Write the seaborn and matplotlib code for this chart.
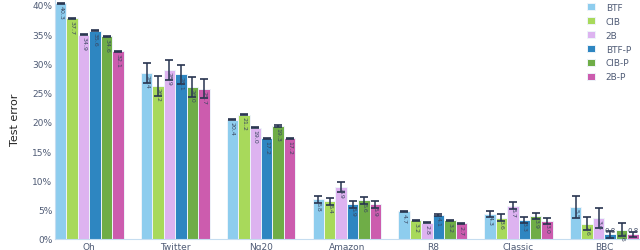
import matplotlib.pyplot as plt
import matplotlib.ticker as mtick
import pandas as pd
import seaborn as sns

# Data
DATASETS = ['Oh', 'Twitter', 'Ng20', 'Amazon', 'R8', 'Classic', 'BBC']
METHODS = ['BTF', 'CIB', '2B', 'BTF-P', 'CIB-P', '2B-P']

BTF = [40.3, 28.4, 20.4, 6.8, 4.7, 4.3, 5.5]
CIB = [37.7, 26.2, 21.2, 6.4, 3.2, 3.6, 2.6]
TWO_B = [34.9, 28.9, 19.0, 8.9, 2.8, 5.7, 3.6]
BTF_P = [35.6, 28.1, 17.2, 5.9, 4.1, 3.3, 0.8]
CIB_P = [34.6, 26.0, 19.3, 6.6, 3.2, 3.9, 1.6]
TWO_B_P = [32.1, 25.7, 17.2, 5.9, 2.7, 3.0, 0.8]

BTF_ERR = [0.1, 1.7, 0.1, 0.6, 0.1, 0.5, 1.9]
CIB_ERR = [0.1, 1.7, 0.1, 0.6, 0.1, 0.6, 1.1]
TWO_B_ERR = [0.1, 1.7, 0.1, 0.9, 0.1, 0.6, 1.7]
BTF_P_ERR = [0.1, 1.7, 0.1, 0.6, 0.1, 0.5, 0.6]
CIB_P_ERR = [0.1, 1.7, 0.1, 0.6, 0.1, 0.5, 1.1]
TWO_B_P_ERR = [0.1, 1.7, 0.1, 0.6, 0.1, 0.5, 0.45]

# Colors
PALETTE = ['#8ECDEE', '#A8D95B', '#DDB3F0', '#2E86C1', '#6FAD47', '#CC5CAE']
TICK_COLOR = '#4F5B75'
ERR_COLOR = '#27344F'
SPINE_COLOR = '#C5DDF0'

values = [BTF, CIB, TWO_B, BTF_P, CIB_P, TWO_B_P]
errors = [BTF_ERR, CIB_ERR, TWO_B_ERR, BTF_P_ERR, CIB_P_ERR, TWO_B_P_ERR]

rows = []
for m, vals, errs in zip(METHODS, values, errors):
    for d, v, e in zip(DATASETS, vals, errs):
        rows.append({'dataset': d, 'method': m, 'error': v, 'std': e})
df = pd.DataFrame(rows)

sns.set_style('white')
plt.rcParams['font.family'] = ['DejaVu Sans']

fig = plt.figure(figsize=(6.4, 2.51), dpi=100)
ax = fig.add_axes([0.086, 0.044, 0.912, 0.956])

sns.barplot(data=df, x='dataset', y='error', hue='method', palette=PALETTE,
            saturation=1, errorbar=None, width=0.8, linewidth=0.7,
            edgecolor='#EEF4FA', ax=ax)

# Error bars and value labels on each bar
for container, m in zip(ax.containers, METHODS):
    sub = df[df['method'] == m]
    for bar, v, e in zip(container, sub['error'], sub['std']):
        cx = bar.get_x() + bar.get_width() / 2
        ax.errorbar(cx, v, yerr=e, color=ERR_COLOR, capsize=3,
                    elinewidth=1.1, capthick=1.2, zorder=5)
        if v < 1.5:
            ax.text(cx, v + 0.3, f'{v:.1f}', ha='center', va='bottom',
                    fontsize=5, color='#3A4660', zorder=6)
        else:
            ax.text(cx, v - 0.25, f'{v:.1f}', ha='center', va='top',
                    rotation=270, fontsize=4.5, color='#3A4660', zorder=6)

ax.set_xlim(-0.4, 6.4)
ax.set_ylim(0, 41)
ax.set_yticks(range(0, 41, 5))
ax.yaxis.set_major_formatter(mtick.FormatStrFormatter('%d%%'))
ax.tick_params(axis='both', labelsize=6.5, colors=TICK_COLOR, length=0, pad=2)
ax.set_xlabel('')
ax.set_ylabel('Test error', fontsize=8, color='#222222', labelpad=9)

for side in ['top', 'right']:
    ax.spines[side].set_visible(False)
for side in ['left', 'bottom']:
    ax.spines[side].set_color(SPINE_COLOR)
    ax.spines[side].set_linewidth(0.8)

legend = ax.legend(loc='upper left', bbox_to_anchor=(0.905, 1.0), frameon=False,
                   fontsize=6.5, handlelength=0.9, handleheight=0.9,
                   labelspacing=0.55, handletextpad=1.2, borderaxespad=0)
for text in legend.get_texts():
    text.set_color(TICK_COLOR)

plt.savefig('out.png', dpi=100)
